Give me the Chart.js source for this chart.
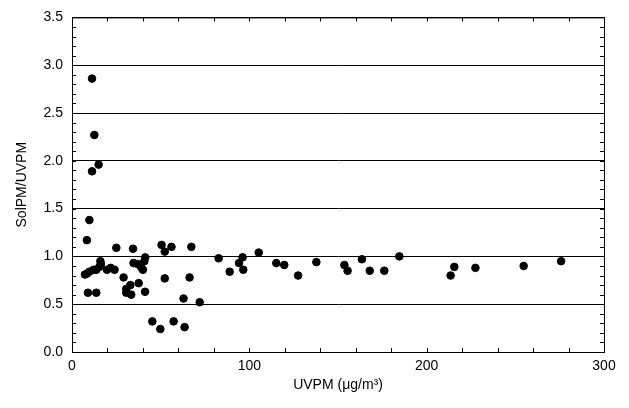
<!DOCTYPE html>
<html>
<head>
<meta charset="utf-8">
<script src="https://cdn.jsdelivr.net/npm/chart.js@4/dist/chart.umd.min.js"></script>
<style>
  html, body { margin: 0; padding: 0; background: #fff; }
  canvas { display: block; }
</style>
</head>
<body>
<canvas id="chart" width="629" height="408"></canvas>
<script>
// UVPM (x) vs SolPM/UVPM (y)
const uvpm = [7.3, 8.5, 8.4, 9.0, 9.8, 9.8, 11.3, 11.3, 12.2, 12.6, 13.7, 13.7, 15.0, 15.4, 16.0, 16.3,
  19.7, 21.8, 24.0, 25.0, 29.1, 30.6, 30.6, 32.9, 33.4, 34.4, 34.7, 37.0, 37.6, 38.9, 40.0, 40.8,
  41.3, 41.2, 45.3, 49.8, 50.5, 52.3, 52.3, 56.1, 57.3, 62.9, 63.5, 66.3, 67.3, 72.0, 82.7, 88.9,
  94.2, 96.2, 96.6, 105.3, 115.2, 119.7, 127.5, 137.8, 153.6, 155.4, 163.5, 167.9, 176.1, 184.6,
  213.5, 215.6, 227.5, 254.7, 275.8];
const ratio = [0.81, 0.82, 1.17, 0.62, 1.38, 0.84, 2.86, 1.89, 0.86, 2.27, 0.62, 0.86, 1.96, 0.89, 0.95, 0.92,
  0.86, 0.88, 0.86, 1.09, 0.78, 0.66, 0.62, 0.70, 0.60, 1.08, 0.93, 0.92, 0.72, 0.89, 0.86, 0.95,
  0.99, 0.63, 0.32, 0.24, 1.12, 1.05, 0.77, 1.10, 0.32, 0.56, 0.26, 0.78, 1.10, 0.52, 0.98, 0.84,
  0.93, 0.99, 0.86, 1.04, 0.93, 0.91, 0.80, 0.94, 0.91, 0.85, 0.97, 0.85, 0.85, 1.00,
  0.80, 0.89, 0.88, 0.90, 0.95];

const xTicks = [0, 100, 200, 300];
const yTicks = [0, 0.5, 1, 1.5, 2, 2.5, 3, 3.5];

const points = uvpm.map((x, i) => ({ x: x, y: ratio[i] }));

// frame on all sides plus inward minor ticks
const framePlugin = {
  id: 'frame',
  afterDraw(chart) {
    const ctx = chart.ctx;
    const a = chart.chartArea;
    const xs = chart.scales.x, ys = chart.scales.y;
    ctx.save();
    ctx.strokeStyle = '#000';
    ctx.lineWidth = 1;
    ctx.strokeRect(a.left + 0.5, a.top + 0.5, a.right - a.left, a.bottom - a.top);
    ctx.beginPath();
    for (let v = 0; v <= 300; v += 20) {
      const px = Math.round(xs.getPixelForValue(v)) + 0.5;
      ctx.moveTo(px, a.bottom); ctx.lineTo(px, a.bottom - 4);
      ctx.moveTo(px, a.top); ctx.lineTo(px, a.top + 4);
    }
    for (let i = 0; i <= 35; i++) {
      const py = Math.round(ys.getPixelForValue(i / 10)) + 0.5;
      ctx.moveTo(a.left, py); ctx.lineTo(a.left + 4, py);
      ctx.moveTo(a.right, py); ctx.lineTo(a.right - 4, py);
    }
    ctx.stroke();
    ctx.restore();
  }
};

Chart.defaults.font.family = '"Liberation Sans", Arial, sans-serif';
Chart.defaults.color = '#000';

new Chart(document.getElementById('chart'), {
  type: 'scatter',
  data: {
    datasets: [{
      data: points,
      backgroundColor: '#000',
      borderColor: '#000',
      pointRadius: 3.8,
      pointHoverRadius: 3.8
    }]
  },
  options: {
    responsive: false,
    animation: false,
    layout: { padding: { top: 16, right: 25, left: 0, bottom: 0 } },
    plugins: { legend: { display: false }, tooltip: { enabled: false } },
    scales: {
      x: {
        type: 'linear', min: 0, max: 300,
        afterFit(s) { s.height = 56; },
        afterBuildTicks(s) { s.ticks = xTicks.map(v => ({ value: v })); },
        grid: { display: false, drawTicks: false },
        border: { display: true, color: '#000', width: 1 },
        ticks: { padding: 6, font: { size: 14 } },
        title: { display: true, text: 'UVPM (μg/m³)', font: { size: 14 }, padding: { top: 4, bottom: 14 } }
      },
      y: {
        type: 'linear', min: 0, max: 3.5,
        afterFit(s) { s.width = 72; },
        afterBuildTicks(s) { s.ticks = yTicks.map(v => ({ value: v })); },
        grid: { color: '#000', lineWidth: 1, drawTicks: false },
        border: { display: true, color: '#000', width: 1 },
        ticks: { padding: 9, font: { size: 14 }, callback: v => v.toFixed(1) },
        title: { display: true, text: 'SolPM/UVPM', font: { size: 14 }, padding: { top: 14, bottom: 4 } }
      }
    }
  },
  plugins: [framePlugin]
});
</script>
</body>
</html>
